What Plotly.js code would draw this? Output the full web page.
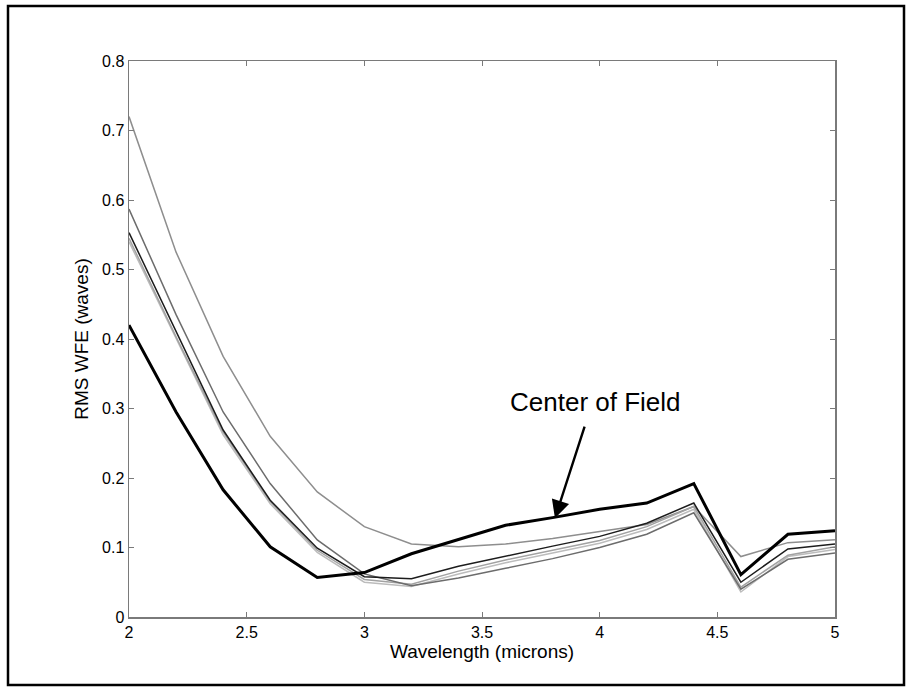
<!DOCTYPE html>
<html>
<head>
<meta charset="utf-8">
<script src="https://cdn.plot.ly/plotly-3.0.1.min.js"></script>
<style>
html,body{margin:0;padding:0;background:#fff;}
#chart{width:912px;height:692px;}
</style>
</head>
<body>
<div id="chart"></div>
<script>
// Wavelength samples (microns)
var wavelength = [2.0, 2.2, 2.4, 2.6, 2.8, 3.0, 3.2, 3.4, 3.6, 3.8, 4.0, 4.2, 4.4, 4.6, 4.8, 5.0];

// RMS WFE (waves) for each field point
var fieldTopGray  = [0.720, 0.525, 0.375, 0.260, 0.180, 0.130, 0.105, 0.101, 0.105, 0.113, 0.123, 0.133, 0.159, 0.087, 0.107, 0.111];
var fieldDarkGray = [0.587, 0.435, 0.295, 0.192, 0.111, 0.062, 0.045, 0.056, 0.070, 0.084, 0.100, 0.119, 0.150, 0.040, 0.083, 0.092];
var fieldThinBlack= [0.553, 0.410, 0.269, 0.168, 0.099, 0.058, 0.055, 0.073, 0.088, 0.102, 0.116, 0.135, 0.164, 0.050, 0.098, 0.105];
var fieldMidGray  = [0.545, 0.403, 0.266, 0.166, 0.096, 0.054, 0.047, 0.066, 0.082, 0.096, 0.110, 0.130, 0.159, 0.043, 0.089, 0.101];
var fieldLightGray= [0.540, 0.400, 0.262, 0.163, 0.093, 0.050, 0.044, 0.062, 0.078, 0.092, 0.106, 0.126, 0.155, 0.036, 0.087, 0.097];
var centerOfField = [0.420, 0.295, 0.183, 0.101, 0.057, 0.064, 0.091, 0.111, 0.132, 0.143, 0.155, 0.164, 0.192, 0.061, 0.119, 0.124];

var yTicks = [0, 0.1, 0.2, 0.3, 0.4, 0.5, 0.6, 0.7, 0.8];
var yTickText = ['0', '0.1', '0.2', '0.3', '0.4', '0.5', '0.6', '0.7', '0.8'];
var xTicks = [2, 2.5, 3, 3.5, 4, 4.5, 5];
var xTickText = ['2', '2.5', '3', '3.5', '4', '4.5', '5'];

function tr(y, color, width) {
  return {x: wavelength, y: y, type: 'scatter', mode: 'lines',
          line: {color: color, width: width}, hoverinfo: 'skip'};
}

var data = [
  tr(fieldTopGray, '#8e8e8e', 1.5),
  tr(fieldLightGray, '#bcbcbc', 1.5),
  tr(fieldMidGray, '#a2a2a2', 1.5),
  tr(fieldDarkGray, '#6c6c6c', 1.5),
  tr(fieldThinBlack, '#1c1c1c', 1.5),
  tr(centerOfField, '#000000', 3)
];

var axisColor = '#7a7a7a';
var fnt = {family: 'Liberation Sans, Arial, sans-serif', size: 16, color: '#000'};

var layout = {
  width: 912, height: 692,
  margin: {l: 129, r: 77, t: 61, b: 75},
  paper_bgcolor: '#fff', plot_bgcolor: '#fff',
  showlegend: false,
  font: fnt,
  xaxis: {
    range: [2, 5], tickvals: xTicks, ticktext: xTickText,
    ticks: 'inside', ticklen: 5, tickcolor: axisColor, tickwidth: 1,
    showline: true, linecolor: axisColor, linewidth: 1.5, mirror: 'ticks',
    showgrid: false, zeroline: false,
    tickfont: fnt,
    title: {text: 'Wavelength (microns)', font: {family: fnt.family, size: 19, color: '#000'}, standoff: 2}
  },
  yaxis: {
    range: [0, 0.8], tickvals: yTicks, ticktext: yTickText,
    ticks: 'inside', ticklen: 5, tickcolor: axisColor, tickwidth: 1,
    showline: true, linecolor: axisColor, linewidth: 1.5, mirror: 'ticks',
    showgrid: false, zeroline: false,
    tickfont: fnt,
    title: {text: 'RMS WFE (waves)', font: {family: fnt.family, size: 19, color: '#000'}, standoff: 8}
  },
  annotations: [
    {x: 3.81, y: 0.142, ax: 3.938, ay: 0.276, xref: 'x', yref: 'y', axref: 'x', ayref: 'y',
     text: '', showarrow: true, arrowhead: 2, arrowsize: 1.5, arrowwidth: 2.4, arrowcolor: '#000'},
    {x: 3.983, y: 0.309, xref: 'x', yref: 'y', text: 'Center of Field', showarrow: false,
     font: {family: fnt.family, size: 26, color: '#000'}}
  ],
  shapes: [
    {type: 'rect', xref: 'paper', yref: 'paper',
     x0: (8 - 129) / 706, x1: (904 - 129) / 706,
     y0: (617 - 685) / 556, y1: (617 - 6) / 556,
     line: {color: '#000', width: 2.5}, fillcolor: 'rgba(0,0,0,0)'}
  ]
};

Plotly.newPlot('chart', data, layout, {displayModeBar: false, staticPlot: true});
</script>
</body>
</html>
